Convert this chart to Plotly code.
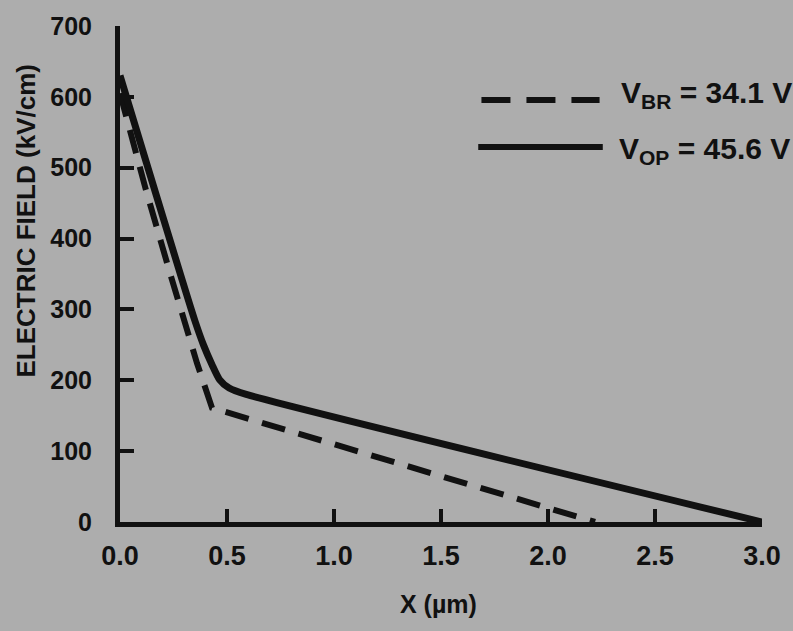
import plotly.graph_objects as go

# Data
x_br = [0.0, 0.12, 0.23, 0.30, 0.36, 0.43, 2.22]
e_br = [605, 470, 355, 282, 224, 161, 0]

x_op = [0.0, 0.35, 0.39, 0.43, 0.465, 0.51, 0.59, 3.0]
e_op = [630, 284, 250, 222, 201, 189, 180, 0]

x_ticks = [0.0, 0.5, 1.0, 1.5, 2.0, 2.5, 3.0]
x_ticklabels = ["0.0", "0.5", "1.0", "1.5", "2.0", "2.5", "3.0"]
y_ticks = [0, 100, 200, 300, 400, 500, 600, 700]

label_br = "V<sub>BR</sub> = 34.1 V"
label_op = "V<sub>OP</sub> = 45.6 V"

BG = "#adadad"
INK = "#111111"
FONT = "Liberation Sans"

fig = go.Figure()
fig.add_trace(go.Scatter(x=x_br, y=e_br, mode="lines",
                         line=dict(color=INK, width=6, dash="24px,14px"),
                         showlegend=False, hoverinfo="skip"))
fig.add_trace(go.Scatter(x=x_op, y=e_op, mode="lines",
                         line=dict(color=INK, width=7, shape="spline", smoothing=0.6),
                         showlegend=False, hoverinfo="skip"))

fig.update_layout(
    width=793, height=631,
    margin=dict(l=120, r=28, t=18, b=109),
    paper_bgcolor=BG, plot_bgcolor=BG,
    font=dict(family=FONT, color=INK, size=24, weight=700),
    xaxis=dict(range=[0, 3.0], tickvals=x_ticks, ticktext=x_ticklabels,
               showgrid=False, zeroline=False, showline=True, linewidth=5,
               linecolor=INK, ticks="inside", ticklen=13, tickwidth=4,
               tickcolor=INK, ticklabelstandoff=6,
               tickfont=dict(family=FONT, size=27, weight=700, color=INK)),
    yaxis=dict(range=[0, 700], tickvals=y_ticks,
               showgrid=False, zeroline=False, showline=True, linewidth=5,
               linecolor=INK, ticks="inside", ticklen=14, tickwidth=4,
               tickcolor=INK, ticklabelstandoff=18,
               tickfont=dict(family=FONT, size=25, weight=700, color=INK)),
)

# Axis titles
fig.add_annotation(text="ELECTRIC FIELD (kV/cm)", xref="paper", yref="paper",
                   x=-0.147, y=0.607, textangle=-90, showarrow=False,
                   xanchor="center", yanchor="middle",
                   font=dict(family=FONT, size=26, weight=700, color=INK))
fig.add_annotation(text="X (µm)", xref="paper", yref="paper",
                   x=0.496, y=-0.165, showarrow=False,
                   xanchor="center", yanchor="middle",
                   font=dict(family=FONT, size=25, weight=700, color=INK))

# Legend
fig.add_shape(type="line", xref="paper", yref="paper",
              x0=0.563, x1=0.747, y0=0.851, y1=0.851,
              line=dict(color=INK, width=6, dash="29px,16px"))
fig.add_shape(type="line", xref="paper", yref="paper",
              x0=0.558, x1=0.752, y0=0.756, y1=0.756,
              line=dict(color=INK, width=6))
fig.add_annotation(text=label_br, xref="paper", yref="paper",
                   x=0.777, y=0.861, showarrow=False,
                   xanchor="left", yanchor="middle",
                   font=dict(family=FONT, size=30, weight=700, color=INK))
fig.add_annotation(text=label_op, xref="paper", yref="paper",
                   x=0.774, y=0.75, showarrow=False,
                   xanchor="left", yanchor="middle",
                   font=dict(family=FONT, size=30, weight=700, color=INK))

fig.write_html("out.html", config={"displayModeBar": False},
               post_script="document.body.style.margin='0';")
